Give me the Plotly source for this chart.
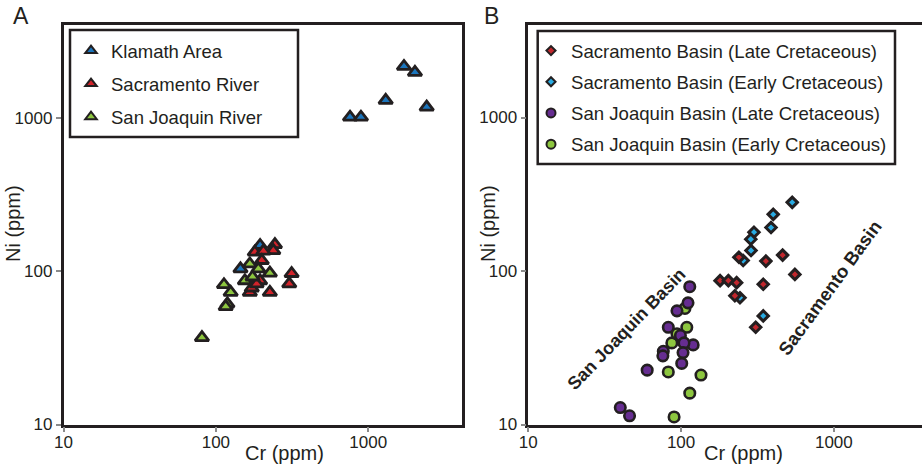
import plotly.graph_objects as go

# ---------------- data ----------------
# Panel A
klamath_cr = [759, 895, 1301, 1715, 2024, 2417, 195, 145]
klamath_ni = [1019, 1019, 1312, 2188, 2000, 1186, 148, 104]

sac_river_cr = [244, 238, 180, 205, 200, 314, 303, 226, 167, 172, 195, 185]
sac_river_ni = [150, 137, 134, 136, 118, 97, 83, 73, 73, 78, 87, 83]

sj_river_cr = [113, 125, 119, 116, 167, 190, 226, 155, 174, 81]
sj_river_ni = [82, 73, 61.5, 59, 112, 104, 97.5, 87, 92, 37]

# Panel B
sac_early_cr = [534, 401, 388, 300, 286, 287, 255, 243, 345]
sac_early_ni = [280, 234, 192, 179, 161, 136, 117, 67, 51]

sac_late_cr = [239, 359, 462, 556, 180, 204, 231, 345, 225, 308]
sac_late_ni = [123, 116, 127, 95, 86.5, 86.5, 84, 82, 69, 43]

sj_early_cr = [109, 87, 94, 82.5, 135, 114, 90, 106]
sj_early_ni = [43, 34, 39, 22, 21, 16, 11.2, 57]

sj_late_cr = [114, 111, 94, 82.5, 99, 120, 104.5, 76.5, 76, 103, 101, 60, 40, 46]
sj_late_ni = [79, 62, 55, 43, 38, 33, 34, 30, 28, 29.4, 25, 22.6, 12.9, 11.4]

tick_vals = [10, 100, 1000]
tick_text = ["10", "100", "1000"]

# ---------------- styling ----------------
W, H = 922, 469
INK = "#231f20"
FONT = "Liberation Sans, Arial, sans-serif"

C_KLAMATH = "#1b75bc"
C_SACR = "#d2232a"
C_SJR = "#8dc63f"
C_SAC_LATE = "#c1272d"
C_SAC_EARLY = "#29abe2"
C_SJ_LATE = "#662d91"
C_SJ_EARLY = "#8dc63f"


def px_x(p):
    return p / W


def px_y(p):
    return 1 - p / H


fig = go.Figure()

# ----- legend-only entries (small symbols as in the reference) -----
def legend_entry(name, symbol, color, size, legend, group):
    fig.add_trace(go.Scatter(
        x=[None], y=[None], mode="markers", name=name,
        marker=dict(symbol=symbol, color=color, size=size,
                    line=dict(color=INK, width=2)),
        legend=legend, legendgroup=group, showlegend=True,
        xaxis="x" if legend == "legend" else "x2",
        yaxis="y" if legend == "legend" else "y2",
    ))

legend_entry("Klamath Area", "triangle-up", C_KLAMATH, 10, "legend", "a1")
legend_entry("Sacramento River", "triangle-up", C_SACR, 10, "legend", "a2")
legend_entry("San Joaquin River", "triangle-up", C_SJR, 10, "legend", "a3")
legend_entry("Sacramento Basin (Late Cretaceous)", "diamond", C_SAC_LATE, 7, "legend2", "b1")
legend_entry("Sacramento Basin (Early Cretaceous)", "diamond", C_SAC_EARLY, 7, "legend2", "b2")
legend_entry("San Joaquin Basin (Late Cretaceous)", "circle", C_SJ_LATE, 9, "legend2", "b3")
legend_entry("San Joaquin Basin (Early Cretaceous)", "circle", C_SJ_EARLY, 9, "legend2", "b4")

# ----- data traces -----
def data_trace(xs, ys, symbol, color, size, xa, ya, lw=2.5):
    fig.add_trace(go.Scatter(
        x=xs, y=ys, mode="markers", showlegend=False, hoverinfo="x+y",
        marker=dict(symbol=symbol, color=color, size=size,
                    line=dict(color=INK, width=lw)),
        xaxis=xa, yaxis=ya,
    ))

data_trace(klamath_cr, klamath_ni, "triangle-up", C_KLAMATH, 12, "x", "y", 2.8)
data_trace(sac_river_cr, sac_river_ni, "triangle-up", C_SACR, 12, "x", "y", 2.8)
data_trace(sj_river_cr, sj_river_ni, "triangle-up", C_SJR, 12, "x", "y", 2.8)

data_trace(sac_early_cr, sac_early_ni, "diamond", C_SAC_EARLY, 8, "x2", "y2", 3)
data_trace(sac_late_cr, sac_late_ni, "diamond", C_SAC_LATE, 8, "x2", "y2", 3)
data_trace(sj_early_cr, sj_early_ni, "circle", C_SJ_EARLY, 10.5, "x2", "y2", 2.6)
data_trace(sj_late_cr, sj_late_ni, "circle", C_SJ_LATE, 10.5, "x2", "y2", 2.6)

# ----- axes -----
ydom = [px_y(424.5), px_y(24.5)]

axis_common = dict(
    type="log", showgrid=False, zeroline=False,
    showline=True, linecolor=INK, linewidth=2.5,
    ticks="outside", ticklen=5, tickwidth=1.5, tickcolor="#8a8a8a",
    tickvals=tick_vals, ticktext=tick_text,
    tickfont=dict(family=FONT, size=17, color=INK),
    automargin=False,
)

fig.update_layout(
    xaxis=dict(axis_common, domain=[px_x(63.5), px_x(462)], range=[1, 3.615],
               mirror=True, anchor="y", ticklabelstandoff=-5),
    yaxis=dict(axis_common, domain=ydom, range=[1, 3.614], mirror=True,
               anchor="x"),
    xaxis2=dict(axis_common, domain=[px_x(528.3), 1.0], range=[1, 3.577],
                mirror=True, anchor="y2", ticklabelstandoff=-5),
    yaxis2=dict(axis_common, domain=ydom, range=[1, 3.606], mirror=False,
                anchor="x2"),
)

# ----- legends -----
fig.update_layout(
    legend=dict(
        x=px_x(71), y=px_y(32), xanchor="left", yanchor="top",
        bgcolor="rgba(0,0,0,0)", borderwidth=0,
        font=dict(family=FONT, size=18.5, color=INK),
        tracegroupgap=6, itemsizing="trace",
    ),
    legend2=dict(
        x=px_x(531), y=px_y(32), xanchor="left", yanchor="top",
        bgcolor="rgba(0,0,0,0)", borderwidth=0,
        font=dict(family=FONT, size=18.6, color=INK),
        tracegroupgap=4, itemsizing="trace",
    ),
)

# legend frames
fig.add_shape(type="rect", xref="paper", yref="paper",
              x0=px_x(70), x1=px_x(298), y0=px_y(137), y1=px_y(30),
              line=dict(color=INK, width=2.5), fillcolor="rgba(0,0,0,0)")
fig.add_shape(type="rect", xref="paper", yref="paper",
              x0=px_x(537.7), x1=px_x(895), y0=px_y(164), y1=px_y(31),
              line=dict(color=INK, width=2.5), fillcolor="rgba(0,0,0,0)")

# ----- text -----
def label(text, cx, cy, size, angle=0, family=FONT):
    return dict(text=text, x=px_x(cx), y=px_y(cy), xref="paper", yref="paper",
                xanchor="center", yanchor="middle", showarrow=False,
                textangle=angle, font=dict(family=family, size=size, color=INK))

ann = [
    label("A", 20.5, 16, 23, family="Liberation Sans Narrow, " + FONT),
    label("B", 491, 16, 23, family="Liberation Sans Narrow, " + FONT),
    label("Cr (ppm)", 284, 453, 20),
    label("Cr (ppm)", 743, 453, 20),
    label("Ni (ppm)", 13, 224, 20, angle=-90),
    label("Ni (ppm)", 488, 224, 20, angle=-90),
    label("<b>San Joaquin Basin</b>", 626.5, 329, 18, angle=-46),
    label("<b>Sacramento Basin</b>", 829, 288, 18.5, angle=-54),
]

fig.update_layout(
    annotations=ann,
    width=W, height=H, autosize=False,
    margin=dict(l=0, r=0, t=0, b=0, autoexpand=False),
    paper_bgcolor="white", plot_bgcolor="white",
    font=dict(family=FONT, color=INK),
)

fig.write_html("out.html")
